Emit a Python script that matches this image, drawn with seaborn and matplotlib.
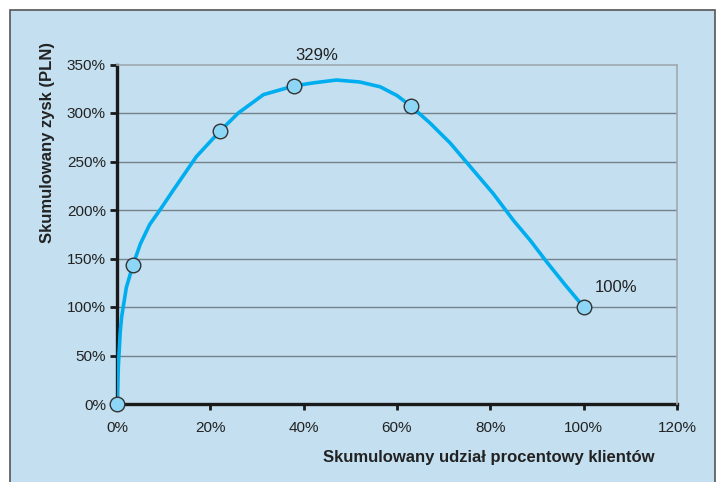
import numpy as np
import pandas as pd
import seaborn as sns
import matplotlib.pyplot as plt
from matplotlib.patches import Rectangle
from matplotlib.ticker import FuncFormatter

# curve (x = % of clients, y = cumulative profit %)
curve_x = [0, 0.3, 0.7, 1.0, 2.0, 3.4, 5, 7, 9.2, 12, 17, 22, 26, 31.4, 38,
           42, 47, 52, 56.4, 60, 63, 67, 71.4, 76, 80.6, 85, 88.5, 92, 96, 100]
curve_y = [0, 40, 75, 90, 120, 143, 165, 185, 200, 220, 255, 281, 300, 319, 328,
           331, 334, 332, 327, 318, 307, 290, 269, 243, 217, 189, 169, 147, 123, 100]

# highlighted points
point_x = [0, 3.4, 22, 38, 63, 100]
point_y = [0, 143, 281, 328, 307, 100]

x_ticks = [0, 20, 40, 60, 80, 100, 120]
y_ticks = [0, 50, 100, 150, 200, 250, 300, 350]

bg = '#c3dff0'
line_col = '#00aeef'

sns.set_theme(style='white')
plt.rcParams['font.family'] = ['Liberation Sans', 'DejaVu Sans']

fig = plt.figure(figsize=(7.23, 4.82), dpi=100)
fig.patch.set_facecolor('white')
fig.patches.append(Rectangle((10 / 723, -0.1), 705 / 723, 1 - 10 / 482 + 0.1,
                             transform=fig.transFigure, facecolor=bg,
                             edgecolor='#555555', linewidth=1.2, zorder=-10))

ax = fig.add_axes([117 / 723, 1 - 404 / 482, 560 / 723, 339.5 / 482])
ax.set_zorder(1)
ax.set_facecolor(bg)

curve = pd.DataFrame({'x': curve_x, 'y': curve_y})
points = pd.DataFrame({'x': point_x, 'y': point_y})

sns.lineplot(data=curve, x='x', y='y', ax=ax, color=line_col, linewidth=2.6,
             sort=False, zorder=3)
sns.scatterplot(data=points, x='x', y='y', ax=ax, s=110, color='#8ed6f6',
                edgecolor='#333333', linewidth=1.0, zorder=4, clip_on=False)

ax.set_xlim(0, 120)
ax.set_ylim(0, 350)
ax.set_xticks(x_ticks)
ax.set_yticks(y_ticks)
pct = FuncFormatter(lambda v, _: f'{v:.0f}%')
ax.xaxis.set_major_formatter(pct)
ax.yaxis.set_major_formatter(pct)

for yv in y_ticks[1:-1]:
    ax.axhline(yv, color='#76838b', linewidth=1.0, zorder=1)

for side in ['left', 'bottom']:
    ax.spines[side].set_color('#1a1a1a')
    ax.spines[side].set_linewidth(2.4)
    ax.spines[side].set_zorder(2)
for side in ['top', 'right']:
    ax.spines[side].set_color('#9fa9af')
    ax.spines[side].set_linewidth(1.2)

ax.tick_params(axis='y', direction='out', length=5, width=2, color='#1a1a1a',
               labelsize=11, labelcolor='#222222', pad=3, left=True)
ax.tick_params(axis='x', direction='out', length=4, width=2, color='#1a1a1a',
               labelsize=11, labelcolor='#222222', pad=8, bottom=True)

ax.set_xlabel('Skumulowany udział procentowy klientów', fontsize=12,
              fontweight='bold', color='#222222')
ax.xaxis.set_label_coords(0.96, -0.135)
ax.xaxis.label.set_ha('right')
ax.set_ylabel('Skumulowany zysk (PLN)', fontsize=12, fontweight='bold',
              color='#222222')
ax.yaxis.set_label_coords(-0.11, 0.77)

ax.text(42.9, 359, '329%', ha='center', va='center', fontsize=12, color='#222222')
ax.text(102.4, 120.6, '100%', ha='left', va='center', fontsize=12, color='#222222')

fig.savefig('out.png', dpi=100, facecolor=fig.get_facecolor())
